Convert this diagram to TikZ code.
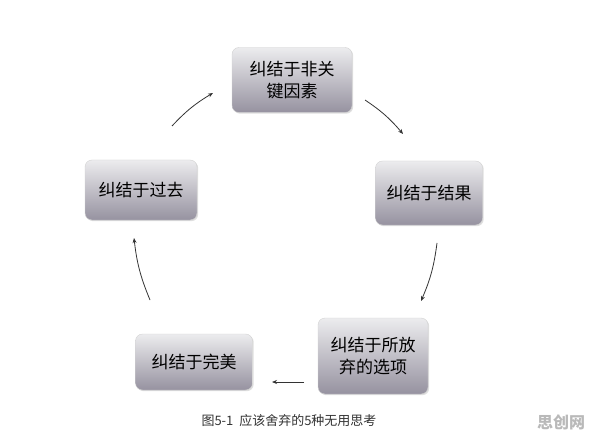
\documentclass[tikz,border=0pt]{standalone}
\usepackage{fontspec}
\newfontfamily\cjk{Noto Sans CJK SC}
\usetikzlibrary{arrows.meta,shadows}
\definecolor{boxtop}{RGB}{236,236,238}
\definecolor{boxbot}{RGB}{150,146,160}
\begin{document}
\begin{tikzpicture}[x=1pt,y=-1pt,
  box/.style={rounded corners=7pt, top color=boxtop, bottom color=boxbot,
    draw=gray!35, line width=0.4pt, drop shadow={shadow xshift=1.2pt,shadow yshift=-1.2pt,opacity=0.25},
    font=\cjk\fontsize{17}{22}\selectfont, align=center, text=black},
  arr/.style={-{Stealth[length=5pt,width=4pt]}, line width=0.8pt, black!80}]
\useasboundingbox (0,0) rectangle (596,446);
\fill[white] (0,0) rectangle (596,446);
\node[box, minimum width=120pt, minimum height=65pt] (b1) at (292,80) {纠结于非关\\键因素};
\node[box, minimum width=107pt, minimum height=64pt] (b2) at (429,193) {纠结于结果};
\node[box, minimum width=110pt, minimum height=76pt] (b3) at (373,356) {纠结于所放\\弃的选项};
\node[box, minimum width=117pt, minimum height=56pt] (b4) at (194,362) {纠结于完美};
\node[box, minimum width=112pt, minimum height=60pt] (b5) at (141,190) {纠结于过去};
\coordinate (a1s) at (172,126); \coordinate (a1e) at (213,93);
\coordinate (a2s) at (365,100); \coordinate (a2e) at (403,134);
\coordinate (a3s) at (437,243); \coordinate (a3e) at (421,301);
\coordinate (a4s) at (304,382); \coordinate (a4e) at (272,382);
\coordinate (a5s) at (150,300); \coordinate (a5e) at (134,238);
\draw[arr] (a1s) to[bend left=8] (a1e);
\draw[arr] (a2s) to[bend left=8] (a2e);
\draw[arr] (a3s) to[bend left=8] (a3e);
\draw[arr] (a4s) -- (a4e);
\draw[arr] (a5s) to[bend left=8] (a5e);
\node[font=\cjk\fontsize{13}{15}\selectfont, text=black!80] (cap) at (289,421) {图5-1\ \ 应该舍弃的5种无用思考};
\node[font=\cjk\bfseries\fontsize{16}{18}\selectfont, text=gray!55] (wm) at (561,422) {思创网};
\end{tikzpicture}
\end{document}
